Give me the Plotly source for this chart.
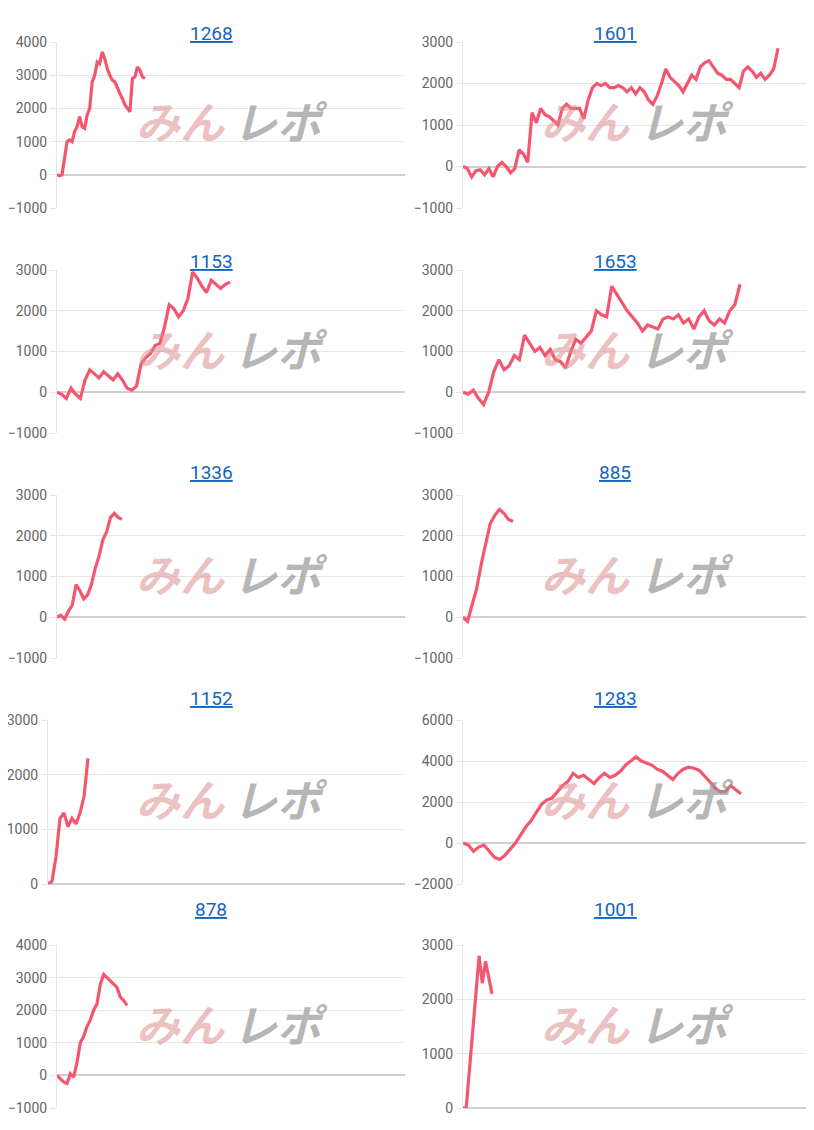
import plotly.graph_objects as go

W, H = 814, 1130
OFF = 8  # page body margin

titles = ["1268", "1601", "1153", "1653", "1336", "885", "1152", "1283", "878", "1001"]

s1268 = [0, -30, 0, 500, 1000, 1050, 1000, 1300, 1450, 1750, 1450, 1400, 1800, 2000, 2800, 3000, 3400, 3350,
         3700, 3500, 3200, 3000, 2850, 2800, 2600, 2450, 2300, 2100, 2000, 1900, 2900, 2950, 3250, 3150, 2950, 2900]
s1601 = [0, -50, -250, -100, -80, -200, -50, -250, 0, 100, 0, -150, -50, 400, 300, 100, 1300, 1050, 1400, 1250,
         1200, 1100, 1000, 1400, 1500, 1400, 1400, 1400, 1150, 1600, 1900, 2000, 1950, 2000, 1900, 1900, 1950, 1900,
         1800, 1900, 1750, 1900, 1800, 1600, 1500, 1700, 2000, 2350, 2150, 2050, 1950, 1800, 2000, 2200, 2100, 2400,
         2500, 2550, 2400, 2250, 2200, 2100, 2100, 2000, 1900, 2300, 2400, 2300, 2150, 2250, 2100, 2200, 2350, 2850]
s1153 = [0, -50, -150, 100, -50, -150, 300, 550, 450, 350, 500, 400, 300, 450, 300, 100, 50, 150, 700, 850, 950,
         1150, 1200, 1600, 2150, 2050, 1850, 2000, 2300, 2950, 2800, 2600, 2450, 2750, 2650, 2550, 2650, 2700]
s1653 = [0, -50, 50, -150, -300, 0, 500, 800, 550, 650, 900, 800, 1400, 1200, 1000, 1100, 900, 1050, 800, 750,
         600, 1000, 1300, 1200, 1350, 1500, 2000, 1900, 1850, 2600, 2400, 2200, 2000, 1850, 1700, 1500, 1650, 1600,
         1550, 1800, 1850, 1800, 1900, 1700, 1800, 1550, 1850, 2000, 1750, 1650, 1800, 1700, 2000, 2150, 2650]
s1336 = [0, 50, -50, 150, 300, 800, 650, 450, 550, 800, 1200, 1500, 1900, 2100, 2450, 2550, 2450, 2400]
s885 = [0, -100, 300, 700, 1300, 1800, 2300, 2500, 2650, 2550, 2400, 2350]
s1152 = [0, 50, 500, 1200, 1300, 1050, 1200, 1100, 1300, 1600, 2300]
s1283 = [0, -100, -400, -200, -100, -400, -700, -800, -600, -300, 0, 400, 800, 1100, 1500, 1900, 2100, 2200, 2500,
         2800, 3000, 3400, 3200, 3300, 3100, 2900, 3200, 3400, 3200, 3300, 3500, 3800, 4000, 4200, 4000, 3900, 3800,
         3600, 3500, 3300, 3100, 3400, 3600, 3700, 3650, 3550, 3300, 3000, 2700, 2500, 2500, 2800, 2600, 2400]
s878 = [0, -100, -200, -250, 50, -50, 400, 1000, 1200, 1500, 1700, 2000, 2200, 2800, 3100, 3000, 2900, 2800, 2700,
        2400, 2300, 2150]
s1001 = [0, 0, 700, 1400, 2100, 2800, 2300, 2700, 2400, 2100]

series = [s1268, s1601, s1153, s1653, s1336, s885, s1152, s1283, s878, s1001]
yranges = [(-1000, 4000), (-1000, 3000), (-1000, 3000), (-1000, 3000), (-1000, 3000),
           (-1000, 3000), (0, 3000), (-2000, 6000), (-1000, 4000), (0, 3000)]
dticks = [1000, 1000, 1000, 1000, 1000, 1000, 1000, 2000, 1000, 1000]
spans = [88, 315, 173, 277, 65, 50, 40, 278, 70, 29]   # pixel width of each line

tops = [42, 270, 495, 720, 945]
bottoms = [208, 433, 658, 884, 1108]
cols = [(57, 405), (463, 810)]
cols_1152 = (48, 405)
title_x = [211, 615]

fig = go.Figure()
annotations = []
for i, (name, ys) in enumerate(zip(titles, series)):
    r, c = divmod(i, 2)
    x0, x1 = cols[c] if i != 6 else cols_1152
    n = len(ys)
    xmax = (n - 1) * (x1 - x0) / spans[i]
    k = str(i + 1) if i else ""
    fig.add_trace(go.Scatter(x=list(range(n)), y=ys, mode="lines",
                             line=dict(color="#f5566f", width=3.2),
                             xaxis="x" + k, yaxis="y" + k, showlegend=False, hoverinfo="skip"))
    ydom = [1 - (bottoms[r] - OFF) / H, 1 - (tops[r] - OFF) / H]
    fig.update_layout({
        "xaxis" + k: dict(domain=[(x0 - OFF) / W, (x1 - OFF) / W], range=[0, xmax], showticklabels=False,
                          automargin=False, showgrid=False, zeroline=False, showline=False, anchor="y" + k),
        "yaxis" + k: dict(domain=ydom, range=list(yranges[i]), dtick=dticks[i], anchor="x" + k, automargin=False,
                          gridcolor="#e6e6e6", zeroline=True, zerolinecolor="#cfcfcf", zerolinewidth=1.5,
                          showline=True, linecolor="#e6e6e6", ticks="outside", ticklen=6, tickcolor="#e6e6e6",
                          tickfont=dict(family="Roboto, Arial", size=14, color="#666666")),
    })
    annotations.append(dict(text="<u>" + name + "</u>", x=(title_x[c] - OFF) / W, y=1 - (tops[r] - 22 - OFF) / H,
                            xref="paper", yref="paper", xanchor="center", showarrow=False,
                            font=dict(family="Roboto, Arial", size=19, color="#1565c0")))
    mid = ((cols[c][0] + cols[c][1]) / 2 - 2 - OFF) / W
    wy = 1 - (tops[r] + 78 - OFF) / H
    annotations.append(dict(text="<b><i>みん</i></b>", x=mid - 0.003, y=wy, xref="paper", yref="paper",
                            xanchor="right", yanchor="middle", showarrow=False,
                            font=dict(family="Noto Sans CJK JP", size=44, color="rgba(220,140,140,0.55)")))
    annotations.append(dict(text="<b><i>レポ</i></b>", x=mid + 0.003, y=wy, xref="paper", yref="paper",
                            xanchor="left", yanchor="middle", showarrow=False,
                            font=dict(family="Noto Sans CJK JP", size=44, color="rgba(150,150,150,0.7)")))

fig.update_layout(width=W, height=H, margin=dict(l=0, r=0, t=0, b=0, autoexpand=False), plot_bgcolor="white",
                  paper_bgcolor="white", annotations=annotations)
fig.write_html("out.html")
